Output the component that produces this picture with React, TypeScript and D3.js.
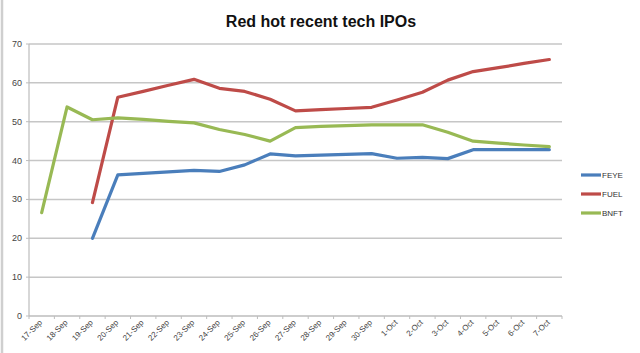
import React, { useEffect, useRef } from "react";
import * as d3 from "d3";

const categories = [
  "17-Sep", "18-Sep", "19-Sep", "20-Sep", "21-Sep", "22-Sep", "23-Sep",
  "24-Sep", "25-Sep", "26-Sep", "27-Sep", "28-Sep", "29-Sep", "30-Sep",
  "1-Oct", "2-Oct", "3-Oct", "4-Oct", "5-Oct", "6-Oct", "7-Oct",
];

const feye: (number | null)[] = [
  null, null, 20, 36.3, 36.7, 37.1, 37.5, 37.2, 38.9, 41.7, 41.2,
  41.4, 41.6, 41.8, 40.6, 40.8, 40.5, 42.8, 42.8, 42.8, 42.8,
];
const fuel: (number | null)[] = [
  null, null, 29.2, 56.3, 57.8, 59.4, 60.9, 58.6, 57.8, 55.8, 52.8,
  53.1, 53.4, 53.7, 55.6, 57.6, 60.7, 62.9, 63.9, 65, 66,
];
const bnft: (number | null)[] = [
  26.6, 53.8, 50.5, 51.0, 50.6, 50.1, 49.7, 48.0, 46.7, 45.0, 48.5,
  48.8, 49.0, 49.2, 49.2, 49.2, 47.3, 45.0, 44.5, 44.0, 43.6,
];

const seriesNames = ["FEYE", "FUEL", "BNFT"];
const seriesColors = ["#4a7ebb", "#be4b48", "#98b954"];
const yTicks = [0, 10, 20, 30, 40, 50, 60, 70];

const App: React.FC = () => {
  const svgRef = useRef<SVGSVGElement>(null);

  useEffect(() => {
    if (!svgRef.current) return;
    const width = 640;
    const height = 353;
    const svg = d3.select(svgRef.current);
    svg.selectAll("*").remove();
    svg.attr("width", width).attr("height", height);

    const margin = { top: 44, right: 78, bottom: 37, left: 29 };
    const innerWidth = width - margin.left - margin.right;
    const innerHeight = height - margin.top - margin.bottom;

    svg.append("rect").attr("width", width).attr("height", height).attr("fill", "#fff");
    svg.append("line")
      .attr("x1", 2).attr("x2", 2).attr("y1", 0).attr("y2", height)
      .attr("stroke", "#cfcfcf").attr("stroke-width", 2.5);

    svg.append("text")
      .attr("x", 321)
      .attr("y", 27)
      .attr("text-anchor", "middle")
      .style("font-family", "'Liberation Sans', Arial, sans-serif")
      .style("font-size", "16px")
      .style("font-weight", "bold")
      .attr("fill", "#111")
      .text("Red hot recent tech IPOs");

    const g = svg.append("g").attr("transform", `translate(${margin.left},${margin.top})`);

    const xScale = d3.scaleBand().domain(categories).range([0, innerWidth]);
    const yScale = d3.scaleLinear().domain([0, 70]).range([innerHeight, 0]);

    // gridlines
    g.selectAll("line.grid")
      .data(yTicks.filter((t) => t > 0))
      .join("line")
      .attr("class", "grid")
      .attr("x1", 0)
      .attr("x2", innerWidth)
      .attr("y1", (d) => yScale(d))
      .attr("y2", (d) => yScale(d))
      .attr("stroke", "#c6c6c6")
      .attr("stroke-width", 1.5);

    // y axis
    g.append("line")
      .attr("x1", 0).attr("x2", 0).attr("y1", 0).attr("y2", innerHeight)
      .attr("stroke", "#bdbdbd").attr("stroke-width", 1.2);
    g.selectAll("line.ytick")
      .data(yTicks)
      .join("line")
      .attr("class", "ytick")
      .attr("x1", -3).attr("x2", 0)
      .attr("y1", (d) => yScale(d)).attr("y2", (d) => yScale(d))
      .attr("stroke", "#bdbdbd");
    g.selectAll("text.ylab")
      .data(yTicks)
      .join("text")
      .attr("class", "ylab")
      .attr("x", -7)
      .attr("y", (d) => yScale(d) + 3)
      .attr("text-anchor", "end")
      .style("font-family", "'Liberation Sans', Arial, sans-serif")
      .style("font-size", "9px")
      .attr("fill", "#444")
      .text((d) => d);

    // x axis
    g.append("line")
      .attr("x1", 0).attr("x2", innerWidth).attr("y1", innerHeight).attr("y2", innerHeight)
      .attr("stroke", "#bdbdbd").attr("stroke-width", 1.5);
    const bounds = d3.range(categories.length + 1).map((i) => i * xScale.bandwidth());
    g.selectAll("line.xtick")
      .data(bounds)
      .join("line")
      .attr("class", "xtick")
      .attr("x1", (d) => d).attr("x2", (d) => d)
      .attr("y1", innerHeight).attr("y2", innerHeight + 3)
      .attr("stroke", "#bdbdbd");
    g.selectAll("text.xlab")
      .data(categories)
      .join("text")
      .attr("class", "xlab")
      .attr("transform", (d) => {
        const x = (xScale(d) ?? 0) + xScale.bandwidth() / 2 + 1;
        return `translate(${x},${innerHeight + 7}) rotate(-45)`;
      })
      .attr("text-anchor", "end")
      .style("font-family", "'Liberation Sans', Arial, sans-serif")
      .style("font-size", "8px")
      .attr("fill", "#444")
      .text((d) => d);

    const allSeries = [feye, fuel, bnft];
    const line = d3.line<number | null>()
      .defined((d) => d !== null)
      .x((_, i) => (xScale(categories[i]) ?? 0) + xScale.bandwidth() / 2)
      .y((d) => yScale(d as number));

    allSeries.forEach((s, i) => {
      g.append("path")
        .datum(s)
        .attr("fill", "none")
        .attr("stroke", seriesColors[i])
        .attr("stroke-width", 3.2)
        .attr("stroke-linejoin", "round")
        .attr("stroke-linecap", "round")
        .attr("d", line);
    });

    // legend
    const legend = svg.append("g").attr("transform", "translate(581,175)");
    seriesNames.forEach((name, i) => {
      const y = i * 19;
      legend.append("line")
        .attr("x1", 0).attr("x2", 20).attr("y1", y).attr("y2", y)
        .attr("stroke", seriesColors[i]).attr("stroke-width", 3.2);
      legend.append("text")
        .attr("x", 21).attr("y", y + 3)
        .style("font-family", "'Liberation Sans', Arial, sans-serif")
        .style("font-size", "8px")
        .attr("fill", "#333")
        .text(name);
    });
  }, []);

  return <svg ref={svgRef} style={{ position: "absolute", left: 0, top: 0, display: "block" }} />;
};

export default App;
